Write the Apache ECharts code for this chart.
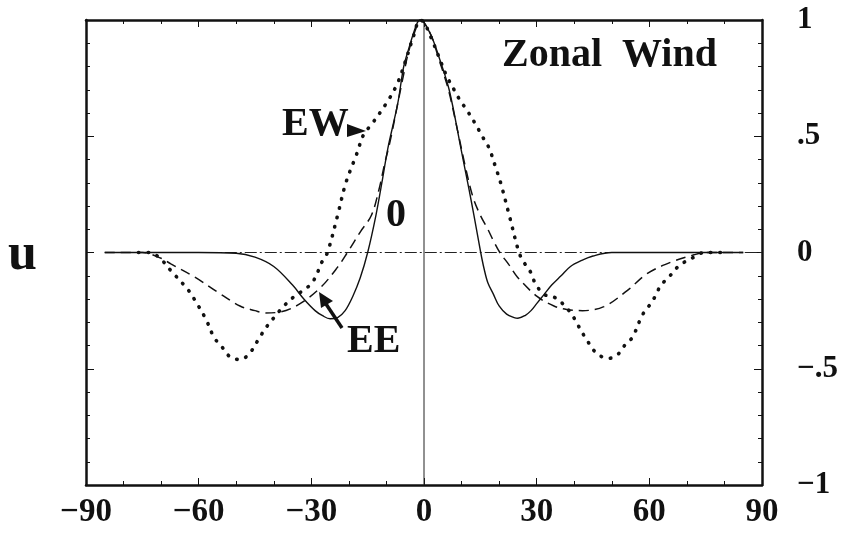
<!DOCTYPE html>
<html>
<head>
<meta charset="utf-8">
<script src="https://cdn.jsdelivr.net/npm/echarts@6/dist/echarts.min.js"></script>
<style>
html,body{margin:0;padding:0;background:#fff;}
#c{width:843px;height:533px;}
</style>
</head>
<body>
<div id="c"></div>
<script>
// ---- data ----
const xTicks = [-90, -60, -30, 0, 30, 60, 90];
const yTickLabels = {"1": "1", "0.5": ".5", "0": "0", "-0.5": "\u2212.5", "-1": "\u22121"};

const solidX = [-85,-60,-50,-45,-40,-35,-32,-29,-27,-25,-23,-21,-19,-17,-15,-12.8,-11,-9.6,-7,-5.4,-4,-2,-1,0,2,4,6.7,9.8,12,13.3,15.1,16,17,18.5,20,22,24,25,27,28.5,30,32,34,36.5,39,42,45,50,85];
const solidY = [0,0,-0.003,-0.02,-0.06,-0.14,-0.20,-0.25,-0.272,-0.285,-0.28,-0.25,-0.19,-0.11,0,0.16,0.32,0.45,0.64,0.80,0.88,0.98,1.0,0.99,0.93,0.84,0.70,0.45,0.27,0.16,0,-0.07,-0.13,-0.18,-0.23,-0.265,-0.28,-0.283,-0.27,-0.25,-0.22,-0.18,-0.14,-0.10,-0.06,-0.034,-0.015,0,0];

const dashX = [-85,-75,-70,-67.4,-61,-55,-49,-45,-42.6,-38,-33,-27.5,-23,-20.4,-16.9,-14,-12,-10.5,-9,-7,-5.5,-4,-2,-1,0,2,4,6.5,9,11,13,15,17,18.5,20.2,22.5,24.9,30.2,34.6,38,42.2,47.9,54.1,59.5,65.7,71.9,75,85];
const dashY = [0,0,-0.025,-0.049,-0.106,-0.17,-0.23,-0.25,-0.26,-0.255,-0.22,-0.15,-0.063,0,0.09,0.16,0.27,0.38,0.48,0.64,0.76,0.87,0.97,1.0,0.99,0.93,0.83,0.70,0.52,0.37,0.24,0.16,0.10,0.05,0,-0.05,-0.106,-0.19,-0.23,-0.245,-0.25,-0.233,-0.164,-0.09,-0.042,-0.01,0,0];

const dotX = [-76,-73,-70,-67.4,-63,-61.2,-58.1,-55.9,-53.7,-51.5,-49,-46.6,-43.5,-41.7,-39.9,-37.3,-34.6,-32.8,-29.7,-27,-25.7,-23,-20.8,-18,-16,-14,-9.7,-7,-5,-3,-1,0,2,4,6,8,9.4,11.5,13.8,15.5,17.3,19,20.4,22.7,25.3,26.6,28.4,29.7,32,35,37.7,39.5,40.8,43.5,46.2,49.3,51.5,53.7,55.5,58.1,59.9,61.7,63,65.2,67.5,70.1,72.3,74.5,81];
const dotY = [0,0,-0.03,-0.078,-0.157,-0.20,-0.286,-0.365,-0.408,-0.451,-0.46,-0.437,-0.358,-0.315,-0.279,-0.23,-0.19,-0.17,-0.128,-0.035,0,0.16,0.30,0.42,0.51,0.55,0.65,0.73,0.82,0.92,1.0,0.99,0.92,0.84,0.76,0.70,0.66,0.61,0.55,0.50,0.45,0.37,0.30,0.16,0,-0.042,-0.085,-0.135,-0.18,-0.195,-0.233,-0.27,-0.307,-0.38,-0.437,-0.455,-0.44,-0.394,-0.365,-0.27,-0.23,-0.185,-0.142,-0.106,-0.063,-0.034,-0.017,0,0];

const zeroLineX = [-85, 90];
const zeroLineY = [0, 0];
const vertLineX = [0, 0];
const vertLineY = [-1, 1];

function pairs(xs, ys) { return xs.map((x, i) => [x, ys[i]]); }

const FONT = '"Liberation Serif", "DejaVu Serif", serif';
const chart = echarts.init(document.getElementById('c'), null, {renderer: 'canvas'});

const axisLineStyle = {color: '#111', width: 2.5};
const xAxisBase = {
  type: 'value', min: -90, max: 90, interval: 30,
  axisLine: {show: true, onZero: false, lineStyle: axisLineStyle},
  axisTick: {show: true, inside: true, length: 7, lineStyle: {color: '#111', width: 1}},
  minorTick: {show: true, splitNumber: 3, length: 4, lineStyle: {color: '#111', width: 1}},
  splitLine: {show: false}, minorSplitLine: {show: false}
};
const yAxisBase = {
  type: 'value', min: -1, max: 1, interval: 0.5,
  axisLine: {show: true, onZero: false, lineStyle: axisLineStyle},
  axisTick: {show: true, inside: true, length: 8, lineStyle: {color: '#111', width: 1}},
  minorTick: {show: true, splitNumber: 5, length: 4, lineStyle: {color: '#111', width: 1}},
  splitLine: {show: false}, minorSplitLine: {show: false}
};

chart.setOption({
  animation: false,
  backgroundColor: '#fff',
  grid: {left: 86, right: 81, top: 20, bottom: 48, containLabel: false},
  xAxis: [
    Object.assign({}, xAxisBase, {
      position: 'bottom',
      axisLabel: {show: true, margin: 11, color: '#111', fontFamily: FONT, fontWeight: 'bold', fontSize: 33,
        formatter: v => (v < 0 ? '\u2212' + Math.abs(v) : String(v))}
    }),
    Object.assign({}, xAxisBase, {position: 'top', axisLabel: {show: false}})
  ],
  yAxis: [
    Object.assign({}, yAxisBase, {position: 'left', axisLabel: {show: false}}),
    Object.assign({}, yAxisBase, {
      position: 'right',
      axisLabel: {show: true, margin: 35, align: 'left', color: '#111', fontFamily: FONT, fontWeight: 'bold', fontSize: 31,
        formatter: v => yTickLabels[String(v)] || ''}
    })
  ],
  series: [
    {type: 'line', name: 'zero', data: pairs(zeroLineX, zeroLineY), symbol: 'none', silent: true,
      lineStyle: {color: '#222', width: 1, type: [12, 3, 2, 3]}},
    {type: 'line', name: 'meridian', data: pairs(vertLineX, vertLineY), symbol: 'none', silent: true,
      lineStyle: {color: '#222', width: 1}},
    {type: 'line', name: 'solid', data: pairs(solidX, solidY), symbol: 'none', smooth: 0.35,
      lineStyle: {color: '#111', width: 1.4}},
    {type: 'line', name: 'dashed', data: pairs(dashX, dashY), symbol: 'none', smooth: 0.35,
      lineStyle: {color: '#111', width: 1.5, type: [10, 6]}},
    {type: 'line', name: 'dotted', data: pairs(dotX, dotY), symbol: 'none', smooth: 0.35,
      lineStyle: {color: '#111', width: 3.6, type: [0.5, 9], cap: 'round'}}
  ],
  graphic: [
    {type: 'text', left: 502, top: 36, style: {text: 'Zonal  Wind', font: 'bold 40px ' + FONT, fill: '#111'}},
    {type: 'text', left: 282, top: 105, style: {text: 'EW', font: 'bold 40px ' + FONT, fill: '#111'}},
    {type: 'text', left: 386, top: 196, style: {text: '0', font: 'bold 40px ' + FONT, fill: '#111'}},
    {type: 'text', left: 347, top: 322, style: {text: 'EE', font: 'bold 40px ' + FONT, fill: '#111'}},
    {type: 'text', left: 8, top: 230, style: {text: 'u', font: 'bold 52px ' + FONT, fill: '#111'}},
    {type: 'polygon', shape: {points: [[347, 124], [366, 131], [347, 137]]}, style: {fill: '#111'}},
    {type: 'line', shape: {x1: 342, y1: 328, x2: 326, y2: 304}, style: {stroke: '#111', lineWidth: 3.5}},
    {type: 'polygon', shape: {points: [[319, 292], [333, 301], [321, 308]]}, style: {fill: '#111'}}
  ]
});
</script>
</body>
</html>
